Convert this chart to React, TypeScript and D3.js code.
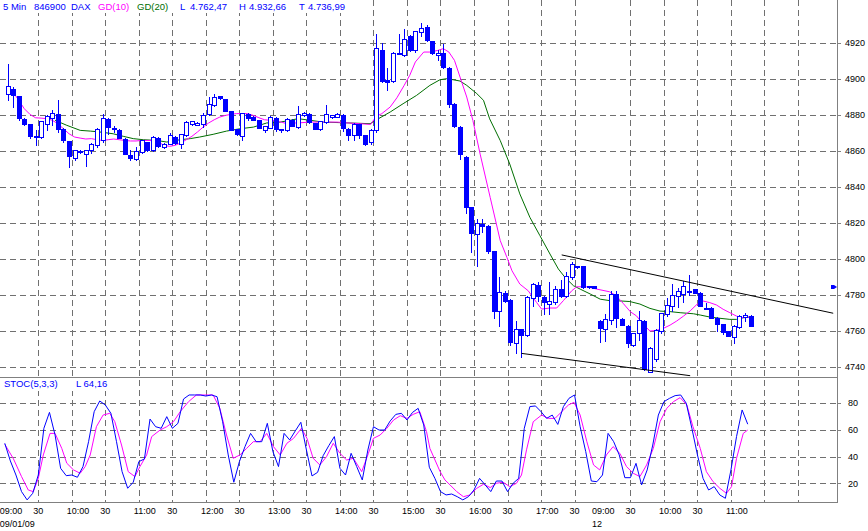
import React from 'react';
import * as d3 from 'd3';

const W = 868;
const H = 531;
const BLUE = '#0000FF';
const MAGENTA = '#FF00FF';
const GREEN = '#006E00';
const GRID = '#707070';
const AXIS = '#808080';
const FONT = "'Liberation Sans', Arial, sans-serif";

// 5-minute OHLC bars (index 0 = 09:00 on 09/01/09, index 106 = 09:00 on the 12th)
const opens = [4891.7,4894.4,4890.2,4877.8,4874.6,4868.2,4867.6,4875.0,4878.3,4880.2,
 4872.2,4865.2,4856.1,4859.8,4858.3,4860.2,4863.0,4866.1,4877.8,4872.4,
 4871.7,4866.7,4857.4,4855.6,4859.3,4864.8,4860.2,4867.2,4862.0,4863.9,
 4867.6,4863.9,4868.5,4874.6,4874.4,4875.0,4880.2,4885.6,4890.2,4888.9,
 4882.0,4872.2,4868.0,4880.6,4878.7,4876.9,4871.7,4872.8,4878.3,4872.0,
 4871.3,4877.2,4873.1,4879.6,4880.6,4875.4,4871.9,4875.9,4878.7,4878.7,
 4880.0,4872.2,4868.5,4874.6,4868.5,4864.8,4871.3,4915.7,4899.1,4898.7,
 4914.0,4913.0,4923.5,4915.7,4925.9,4928.7,4920.7,4913.0,4914.3,4906.1,
 4886.1,4873.0,4856.7,4828.9,4813.7,4819.3,4818.1,4804.4,4770.7,4780.7,
 4777.0,4753.0,4760.9,4757.6,4778.1,4785.6,4778.5,4774.8,4775.7,4783.1,
 4779.4,4790.0,4795.7,4795.7,4784.6,4784.6,4765.6,4760.9,4765.9,4780.4,
 4766.5,4762.8,4752.0,4758.5,4765.4,4737.2,4744.1,4759.8,4769.1,4773.7,
 4779.3,4780.2,4782.0,4783.0,4781.1,4772.8,4772.8,4767.2,4763.9,4759.8,
 4756.5,4762.0,4767.6,4768.0];
const highs = [4908.0,4895.4,4890.5,4878.0,4874.8,4871.3,4876.5,4879.6,4882.8,4888.0,
 4872.5,4865.5,4860.5,4860.2,4860.6,4864.5,4872.5,4880.2,4878.3,4873.5,
 4872.0,4867.0,4860.2,4862.0,4866.0,4865.0,4868.0,4867.5,4864.2,4869.8,
 4868.0,4869.5,4876.3,4876.5,4876.0,4881.0,4889.8,4891.7,4890.5,4889.0,
 4882.0,4872.2,4881.0,4880.8,4879.0,4877.0,4873.7,4879.0,4878.5,4872.2,
 4878.0,4877.5,4885.0,4881.5,4881.0,4875.5,4876.5,4885.2,4880.0,4881.0,
 4880.5,4872.5,4875.5,4875.0,4868.7,4872.0,4925.0,4919.8,4906.1,4914.6,
 4924.6,4927.8,4924.4,4926.5,4931.0,4930.0,4921.0,4916.0,4919.4,4906.5,
 4886.5,4873.5,4857.0,4829.0,4822.0,4822.0,4818.5,4804.5,4790.0,4781.9,
 4777.5,4765.6,4761.0,4779.5,4786.5,4786.9,4779.4,4787.2,4785.0,4788.1,
 4792.4,4798.0,4796.0,4796.0,4784.8,4785.0,4766.0,4769.3,4782.2,4782.0,
 4767.0,4763.0,4759.0,4771.0,4766.0,4751.0,4761.0,4770.0,4778.0,4785.7,
 4784.0,4787.6,4791.0,4783.2,4781.5,4775.6,4773.0,4767.5,4764.0,4760.0,
 4763.0,4768.5,4770.0,4768.5];
const lows = [4888.3,4884.3,4877.0,4874.0,4867.0,4863.0,4867.0,4871.3,4874.1,4870.4,
 4865.0,4850.9,4854.6,4859.0,4851.3,4859.0,4862.0,4865.0,4869.3,4870.4,
 4867.0,4858.0,4854.6,4854.6,4859.0,4860.0,4860.0,4862.0,4861.5,4863.5,
 4864.0,4861.7,4868.0,4874.0,4874.0,4873.0,4879.6,4885.0,4889.0,4882.0,
 4871.5,4869.0,4865.7,4876.9,4877.0,4872.5,4870.4,4872.5,4871.0,4870.5,
 4871.0,4873.5,4872.8,4879.0,4875.5,4872.0,4871.5,4875.5,4878.0,4878.5,
 4871.0,4866.0,4866.0,4867.0,4863.0,4863.5,4870.5,4898.0,4893.5,4898.0,
 4913.5,4912.5,4915.5,4915.0,4923.9,4921.0,4914.0,4910.2,4906.0,4884.3,
 4873.0,4855.4,4825.2,4803.5,4796.1,4815.0,4803.0,4767.0,4762.8,4776.0,
 4752.0,4747.4,4745.6,4757.0,4773.9,4776.7,4769.3,4769.3,4775.0,4779.0,
 4779.0,4789.0,4795.0,4784.0,4784.0,4783.5,4753.5,4754.4,4764.0,4762.0,
 4763.0,4751.0,4751.5,4755.0,4738.0,4737.0,4743.0,4759.0,4768.0,4771.0,
 4773.0,4776.0,4780.0,4780.8,4773.5,4771.9,4767.0,4759.8,4758.0,4756.8,
 4753.3,4761.5,4765.4,4762.6];
const closes = [4895.7,4890.7,4878.3,4874.6,4868.0,4868.0,4876.3,4879.1,4880.9,4872.2,
 4865.7,4856.9,4860.2,4859.6,4860.6,4863.9,4872.2,4878.3,4873.1,4872.2,
 4867.2,4858.3,4856.1,4859.8,4865.7,4860.6,4867.6,4862.4,4863.9,4868.5,
 4864.3,4869.1,4875.9,4876.3,4875.6,4879.6,4886.1,4889.8,4889.4,4882.0,
 4871.7,4869.1,4880.9,4878.3,4877.2,4872.8,4873.5,4878.7,4872.0,4871.3,
 4877.8,4873.7,4880.2,4881.1,4875.9,4872.2,4876.3,4880.2,4879.6,4880.2,
 4872.8,4868.5,4875.0,4868.5,4864.0,4871.3,4917.2,4898.7,4898.1,4914.4,
 4914.3,4922.2,4916.1,4926.3,4928.3,4921.3,4914.3,4914.4,4906.5,4885.7,
 4873.5,4858.1,4828.9,4814.1,4819.8,4818.1,4804.4,4771.1,4781.3,4776.7,
 4753.5,4760.9,4757.8,4778.9,4785.9,4779.1,4775.7,4776.7,4783.1,4779.4,
 4790.5,4797.0,4795.2,4784.1,4784.1,4783.7,4761.5,4766.5,4780.4,4766.9,
 4763.3,4753.0,4758.7,4766.1,4738.5,4750.2,4760.4,4769.6,4774.3,4779.6,
 4782.0,4784.8,4782.2,4781.1,4773.7,4772.8,4767.2,4763.9,4759.3,4757.0,
 4762.6,4768.1,4768.5,4762.47];

// GD(10) line: bar position, value
const ma10Bar = [1,2,3,4,5,6,7,8,9,10,11,12,13,14,15,16,17,18,19,20,21,22,23,24,25,26,27,28,29,30,
 31,32,33,34,35,36,37,38,39,40,41,42,43,44,45,46,47,48,49,50,51,52,54,56.5,59,61,63,65,66,67,
 68.5,69.7,71,72,73,74.5,75.6,77,78,79,80,81,82.2,83.3,84.6,86.4,88.2,89.4,90.3,91.7,93.2,94.7,95.6,97.1,98.3,99.5,
 101,101.9,103.7,105.5,107.8,109,110.2,111.5,112.6,113.8,115,116.2,117.4,118.6,119.8,121,122.2,123.4,124.5,125.7,
 126.9,128.1,129.3,130.5,131.7,132.9];
const ma10Val = [4892.6,4888,4883.3,4880.2,4878.3,4878.1,4877.8,4876.9,4875,4872.2,4869.4,4867.6,4867,4866.5,4866.7,4866.1,4865.7,4866.1,4866.5,4866.1,
 4865.7,4865.4,4865.4,4865.7,4865.7,4865.6,4864.8,4863,4862.4,4863,4864.3,4866.1,4868,4870.4,4873.1,4875.4,4877.2,4878.7,4879.6,4880.2,
 4880.6,4880.6,4880.6,4879.6,4878.3,4877.2,4876.9,4876.5,4875.9,4875,4875.4,4875.4,4875.9,4875.9,4875.9,4875.4,4875,4874.6,4879.1,4880.6,
 4884.3,4889.4,4896.3,4901.9,4909.3,4914.8,4914.8,4915.7,4916.7,4914.8,4910.2,4900.9,4889.8,4876.8,4858.1,4834,4810,4800.7,4793.3,4785.9,
 4782.2,4775.7,4772,4772.6,4772.6,4776.7,4782.2,4784.4,4784.4,4783.1,4781.6,4779.3,4775.2,4770.5,4768.2,4763.5,4759.8,4760.2,4761.3,4763.1,
 4765.4,4768.1,4771,4774.6,4776.5,4775.6,4774.3,4771.9,4770,4768.1,4767.2,4767.6];

// GD(20) line
const ma20Bar = [8.5,10.6,13,14.8,16.5,18.9,20.7,22.5,24.3,26.7,28.5,30.9,32.7,34.4,36.8,39.2,41.6,44,46.4,48.8,
 50.6,52,56.5,61.3,64.9,66.4,68.5,70.8,73.2,75.6,77.4,78.6,79.8,81,82.2,84,85.2,86.3,88.2,89.9,
 91.7,93.5,95.3,97.1,98.6,99.8,101.3,102.5,104.3,106.1,107.8,109.3,111.4,113.2,115,116.8,118.6,120.4,122.8,124,
 125.7,127.5,129.3,130.5,131.7,132.9];
const ma20Val = [4876.9,4874.1,4871.3,4870.9,4870.4,4869.4,4868,4866.7,4866.1,4865.7,4864.8,4866.1,4866.7,4867.6,4869.1,4870.9,4872.2,4873.1,4875.4,4875.9,
 4876.9,4877.8,4875.9,4875.4,4875,4877.8,4881.5,4886.1,4890.7,4896.3,4899.4,4900,4899.4,4898.7,4896.3,4891.7,4888,4877.7,4865.6,4852.6,
 4836,4823,4812.8,4802.6,4794.3,4789.6,4785,4783.1,4780.4,4777.5,4776.7,4776.6,4776.2,4774.8,4772.4,4770.9,4770.6,4770,4769.4,4768.7,
 4767.6,4766.9,4766.3,4766.3,4767.2,4767.6];

// STOC(5,3,3): %K per bar and %D line
const stochK = [49.9,36.7,26.2,13.8,7.6,12.5,26.2,61.1,73.0,56.1,
 31.2,25.7,26.2,24.5,32.5,51.1,73.5,81.5,78.5,72.3,
 51.1,28.7,16.3,20.8,36.2,38.2,68.0,62.3,61.1,69.8,
 61.1,64.8,83.0,86.0,86.0,86.0,85.2,86.0,84.7,66.0,
 41.2,20.8,36.2,47.4,57.3,51.1,51.1,64.8,43.7,32.5,
 57.3,52.4,59.1,65.6,44.9,25.5,28.2,40.7,48.1,54.9,
 31.2,26.2,42.4,32.5,22.5,44.9,62.3,59.8,59.8,66.6,
 71.5,72.3,67.3,73.0,76.0,63.6,32.0,23.7,13.8,11.3,
 12.0,10.0,7.6,10.0,15.0,23.7,18.8,13.8,21.7,21.7,
 13.8,20.0,23.7,61.1,77.3,77.8,73.5,68.5,71.0,64.0,
 77.3,83.5,86.0,62.3,43.7,21.7,21.2,26.2,57.3,51.1,
 41.2,24.2,24.2,34.9,18.8,30.0,48.6,71.0,81.0,83.5,
 85.5,86.0,79.8,61.1,41.2,23.7,15.0,17.5,11.3,8.8,
 30.0,55.0,74.8,64.16];
const stochDBar = [0,1.5,3,4.2,5.1,6,6.9,8.1,9,10.2,11.1,12.3,13.5,14.4,15.3,16.4,17.6,18.8,19.7,20.9,
 22.1,23.3,24.2,25.4,26.3,27.8,29,30.2,31.4,32.9,34.3,35.8,37.3,38.5,39.7,40.9,42.1,43.3,44.5,45.7,
 46.9,48.1,49.3,50.5,51.7,53.1,54.1,55.2,56.4,57.6,58.8,60,61.2,62.4,63.9,65.1,66,67.2,68.4,69.6,
 70.8,72,73.1,74.3,75.5,76.1,77.9,78.8,79.7,80.9,82.1,83.3,84.5,85.7,86.9,88,89.2,90.4,91.6,92.5,
 93.4,94.6,96.1,97.3,98.5,99.7,100.9,101.9,103,104.2,105.4,106.5,107.7,108.9,110.1,111.3,112.5,113.7,114.9,116.1,
 117.3,118.5,119.7,120.9,122.1,123.2,124.5,125.6,126.8,128,129.2,130.1,131,132.2,133];
const stochDVal = [49.1,38.7,25,15,13.8,23.7,41.2,57.3,57.3,46.1,35,30,27.5,32.5,41.2,62.3,71,72.3,66,48.6,
 28.7,25,32.5,41.2,54.9,59.8,62.3,66,73.5,81,86,86,86,76,56.1,38.7,41.2,46.1,51.1,51.1,
 57.3,47.4,41.2,49.9,53.6,61.1,53.6,38.7,33.7,39.9,49.9,42.4,37.4,38.7,28.7,42.4,53.6,56.1,61.1,67.3,
 70.5,68.5,71.5,73.5,58.6,46.1,29,22.5,18.8,13.8,10,11.3,16.3,19.3,16.8,20,20.8,17.5,20,26.2,
 45,66,71,68.5,68.5,73.5,78.5,80.5,71,51.1,33.7,30,41.2,47.4,42.4,32.5,27.5,25,33.7,46.1,
 66,76,81,84,78.5,62.3,46.1,28.7,21.2,16.3,12.5,17.5,38.7,57.3,59.8];

// axes
const priceTicks = [4740, 4760, 4780, 4800, 4820, 4840, 4860, 4880, 4900, 4920];
const stochTicks = [20, 40, 60, 80];
const timeTickBars = [0,6,12,18,24,30,36,42,48,54,60,66,72,78,84,90,96,102,106,112,118,124,130];
const timeTickLabels = ['09:00','30','10:00','30','11:00','30','12:00','30','13:00','30','14:00','30','15:00','30','16:00','30','17:00','30','09:00','30','10:00','30','11:00'];
const gridBars = [6,12,18,24,30,36,42,48,54,60,66,72,78,84,90,96,102,112,118,124,130,136,142];
const dateBars = [0, 106];
const dateLabels = ['09/01/09', '12'];

// drawn trend channel (bar position, price)
const upperLineBars = [99.2, 147.8];
const upperLinePrices = [4802.1, 4769.7];
const lowerLineBars = [92.0, 122.2];
const lowerLinePrices = [4747.4, 4735.0];
const markerPrice = 4784.3;

const headerItems = [
  { x: 3, text: '5 Min', color: BLUE },
  { x: 34, text: '846900', color: BLUE },
  { x: 71, text: 'DAX', color: BLUE },
  { x: 98, text: 'GD(10)', color: MAGENTA },
  { x: 137, text: 'GD(20)', color: GREEN },
  { x: 180, text: 'L', color: BLUE },
  { x: 190, text: '4.762,47', color: BLUE },
  { x: 239, text: 'H', color: BLUE },
  { x: 249, text: '4.932,66', color: BLUE },
  { x: 299, text: 'T', color: BLUE },
  { x: 308, text: '4.736,99', color: BLUE },
];

export default function App() {
  const PLOT_R = 837.3;
  const PRICE_BOTTOM = 376.7;
  const STOCH_BOTTOM = 501.7;

  const xs = d3.scaleLinear().domain([0, 149]).range([4.78, 837.1]); // bar start
  const xBar = (i: number) => xs(i + 0.5);
  const yP = d3.scaleLinear().domain([4740, 4920]).range([366.7, 42.7]);
  const yS = d3.scaleLinear().domain([20, 80]).range([483.3, 403]);

  const lineMA10 = d3.line<number>().x((_, k) => xBar(ma10Bar[k])).y((d) => yP(d));
  const lineMA20 = d3.line<number>().x((_, k) => xBar(ma20Bar[k])).y((d) => yP(d));
  const lineK = d3.line<number>().x((_, k) => xs(k)).y((d) => yS(d));
  const lineD = d3.line<number>().x((_, k) => xs(stochDBar[k])).y((d) => yS(d));

  const my = yP(markerPrice);

  return (
    <svg width={W} height={H} style={{ position: 'absolute', left: 0, top: 0, background: '#fff' }}
      fontFamily={FONT}>
      <defs>
        <clipPath id="clipPrice"><rect x={0} y={0} width={PLOT_R} height={PRICE_BOTTOM} /></clipPath>
        <clipPath id="clipStoch"><rect x={0} y={PRICE_BOTTOM} width={PLOT_R} height={STOCH_BOTTOM - PRICE_BOTTOM} /></clipPath>
      </defs>
      <rect x={0} y={0} width={W} height={H} fill="#fff" />

      {/* grid */}
      <g stroke={GRID} strokeWidth={1} strokeDasharray="6,4" shapeRendering="crispEdges">
        {gridBars.map((b) => (
          <line key={'v' + b} x1={Math.round(xs(b)) + 0.5} x2={Math.round(xs(b)) + 0.5} y1={0} y2={STOCH_BOTTOM} />
        ))}
        {priceTicks.map((p) => (
          <line key={'h' + p} x1={0} x2={PLOT_R} y1={Math.round(yP(p)) + 0.5} y2={Math.round(yP(p)) + 0.5} />
        ))}
        {stochTicks.map((s) => (
          <line key={'s' + s} x1={0} x2={PLOT_R} y1={Math.round(yS(s)) + 0.5} y2={Math.round(yS(s)) + 0.5} />
        ))}
      </g>

      {/* price panel */}
      <g clipPath="url(#clipPrice)">
        <path d={lineMA20(ma20Val) || ''} fill="none" stroke={GREEN} strokeWidth={1} />
        <path d={lineMA10(ma10Val) || ''} fill="none" stroke={MAGENTA} strokeWidth={1} />
        {opens.map((o, i) => {
          const c = closes[i];
          const cx = Math.round(xBar(i)) + 0.5;
          const yo = yP(o);
          const yc = yP(c);
          const top = Math.round(Math.min(yo, yc)) + 0.5;
          const bot = Math.round(Math.max(yo, yc)) + 0.5;
          const up = c >= o;
          return (
            <g key={i} shapeRendering="crispEdges">
              <line x1={cx} x2={cx} y1={Math.round(yP(highs[i]))} y2={Math.round(yP(lows[i])) + 1} stroke={BLUE} />
              <rect x={cx - 2} y={top} width={4} height={Math.max(bot - top, 1)} fill={up ? '#fff' : BLUE} stroke={BLUE} />
            </g>
          );
        })}
        <line x1={xBar(upperLineBars[0])} y1={yP(upperLinePrices[0])} x2={xBar(upperLineBars[1])} y2={yP(upperLinePrices[1])} stroke="#000" strokeWidth={1} />
        <line x1={xBar(lowerLineBars[0])} y1={yP(lowerLinePrices[0])} x2={xBar(lowerLineBars[1])} y2={yP(lowerLinePrices[1])} stroke="#000" strokeWidth={1} />
      </g>
      <path d={`M831,${my - 2}L834,${my - 2}L837,${my}L834,${my + 2}L831,${my + 2}Z`} fill={BLUE} />

      {/* stochastic panel */}
      <g clipPath="url(#clipStoch)">
        <path d={lineD(stochDVal) || ''} fill="none" stroke={MAGENTA} strokeWidth={1} />
        <path d={lineK(stochK) || ''} fill="none" stroke={BLUE} strokeWidth={1} />
      </g>

      {/* panel borders */}
      <g stroke={AXIS} strokeWidth={1} shapeRendering="crispEdges">
        <line x1={0} x2={PLOT_R} y1={Math.round(PRICE_BOTTOM) + 0.5} y2={Math.round(PRICE_BOTTOM) + 0.5} />
        <line x1={0} x2={PLOT_R} y1={Math.round(STOCH_BOTTOM) + 0.5} y2={Math.round(STOCH_BOTTOM) + 0.5} />
        <line x1={Math.round(PLOT_R) + 0.5} x2={Math.round(PLOT_R) + 0.5} y1={0} y2={Math.round(STOCH_BOTTOM) + 1} />
        {priceTicks.map((p) => (
          <line key={'pt' + p} x1={PLOT_R} x2={PLOT_R + 4} y1={Math.round(yP(p)) + 0.5} y2={Math.round(yP(p)) + 0.5} />
        ))}
        {stochTicks.map((s) => (
          <line key={'st' + s} x1={PLOT_R} x2={PLOT_R + 4} y1={Math.round(yS(s)) + 0.5} y2={Math.round(yS(s)) + 0.5} />
        ))}
      </g>

      {/* right axis labels */}
      <g fontSize={9} fill="#000">
        {priceTicks.map((p) => (
          <text key={'pl' + p} x={845} y={yP(p) + 3.3}>{p}</text>
        ))}
        {stochTicks.map((s) => (
          <text key={'sl' + s} x={848} y={yS(s) + 3.3}>{s}</text>
        ))}
      </g>

      {/* time axis labels */}
      <g fontSize={9} fill="#000">
        {timeTickBars.map((b, k) => (
          <text key={'tl' + k} x={xs(b) - 5} y={513.5}>{timeTickLabels[k]}</text>
        ))}
        {dateBars.map((b, k) => (
          <text key={'dl' + k} x={xs(b) - 5} y={526.5}>{dateLabels[k]}</text>
        ))}
      </g>

      {/* header */}
      <rect x={0} y={0} width={352} height={13} fill="#fff" />
      <g fontSize={9.5}>
        {headerItems.map((h, k) => (
          <text key={'hd' + k} x={h.x} y={10} fill={h.color}>{h.text}</text>
        ))}
      </g>

      {/* stochastic label */}
      <rect x={0} y={378} width={118} height={13} fill="#fff" />
      <g fontSize={9.5} fill={BLUE}>
        <text x={4} y={387}>STOC(5,3,3)</text>
        <text x={76} y={387}>L 64,16</text>
      </g>
    </svg>
  );
}
